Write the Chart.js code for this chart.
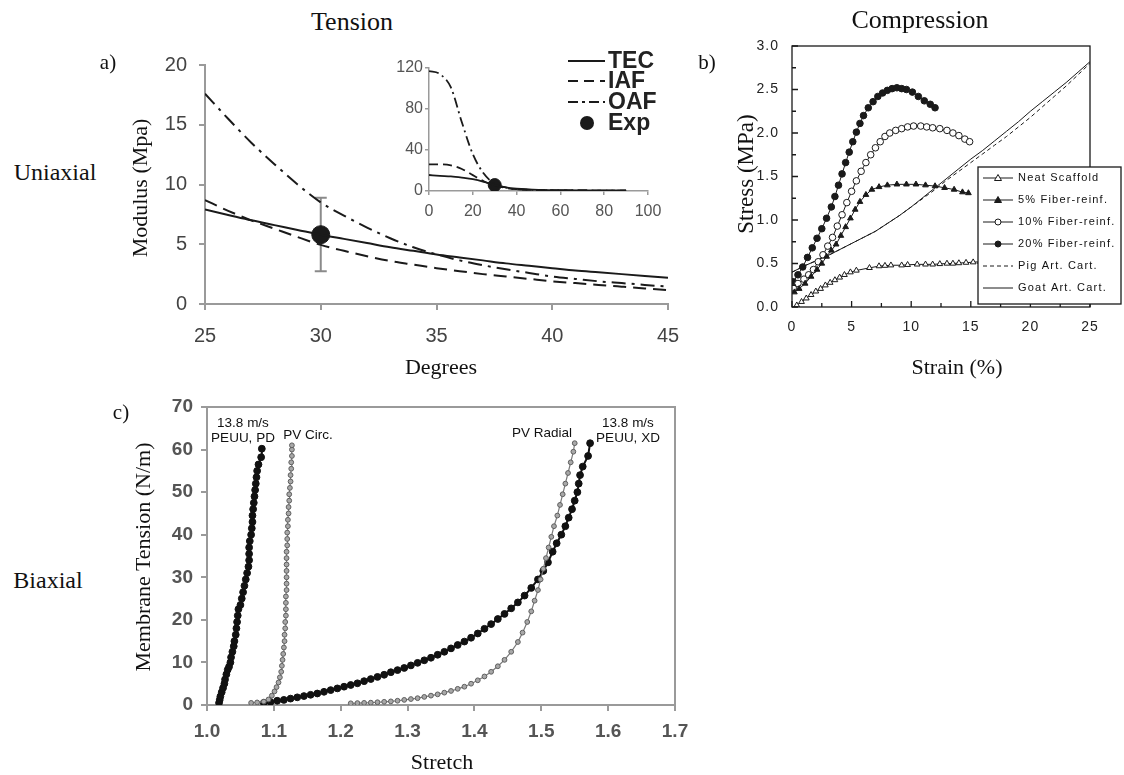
<!DOCTYPE html>
<html><head><meta charset="utf-8">
<script src="https://cdn.jsdelivr.net/npm/chart.js@4.4.1/dist/chart.umd.min.js"></script>
<style>
html,body{margin:0;padding:0;background:#fff;}
#wrap{position:relative;width:1124px;height:775px;overflow:hidden;background:#fff;}
canvas{position:absolute;}
.t{position:absolute;font-family:"Liberation Serif","Times New Roman",serif;color:#111;white-space:nowrap;transform:translate(-50%,-50%);line-height:1;}
.r{transform:translate(-50%,-50%) rotate(-90deg);}
.ann{position:absolute;font-family:"Liberation Sans",Arial,sans-serif;font-size:13.5px;color:#111;transform:translate(-50%,-50%);text-align:center;line-height:1.12;white-space:nowrap;}
</style></head>
<body><div id="wrap">
<canvas id="ca" width="600" height="340" style="left:100px;top:40px"></canvas>
<canvas id="ci" width="300" height="200" style="left:380px;top:40px"></canvas>
<canvas id="cb" width="424" height="360" style="left:700px;top:30px"></canvas>
<canvas id="cc" width="600" height="395" style="left:110px;top:380px"></canvas>

<div class="t" style="left:352px;top:22px;font-size:26px">Tension</div>
<div class="t" style="left:920px;top:20px;font-size:26px">Compression</div>
<div class="t" style="left:108px;top:62px;font-size:21px">a)</div>
<div class="t" style="left:707px;top:62px;font-size:21px">b)</div>
<div class="t" style="left:121px;top:412px;font-size:21px">c)</div>
<div class="t" style="left:55px;top:172px;font-size:24px">Uniaxial</div>
<div class="t" style="left:48px;top:580px;font-size:24px">Biaxial</div>
<div class="t r" style="left:140px;top:188px;font-size:22px">Modulus (Mpa)</div>
<div class="t" style="left:441px;top:367px;font-size:22px">Degrees</div>
<div class="t r" style="left:745px;top:174px;font-size:23px">Stress (MPa)</div>
<div class="t" style="left:957px;top:367px;font-size:22px">Strain (%)</div>
<div class="t r" style="left:143px;top:557px;font-size:22px">Membrane Tension (N/m)</div>
<div class="t" style="left:442px;top:762px;font-size:22px">Stretch</div>
<div class="ann" style="left:243px;top:430px">13.8 m/s<br>PEUU, PD</div>
<div class="ann" style="left:308px;top:435px">PV Circ.</div>
<div class="ann" style="left:542px;top:433px">PV Radial</div>
<div class="ann" style="left:628px;top:430px">13.8 m/s<br>PEUU, XD</div>
</div>
<script>
// ---------- Panel a: main ----------
const aDeg = [25,26,27,28,29,30,31,32,33,34,35,36,37,38,39,40,41,42,43,44,45];
const aTEC = [7.9,7.45,7.0,6.6,6.2,5.8,5.45,5.1,4.75,4.45,4.15,3.9,3.65,3.4,3.2,3.0,2.8,2.65,2.5,2.35,2.2];
const aIAF = [8.7,7.8,7.0,6.3,5.6,4.95,4.45,4.0,3.6,3.3,3.0,2.75,2.5,2.3,2.1,1.9,1.75,1.6,1.45,1.3,1.15];
const aOAF = [17.6,15.5,13.5,11.7,10.0,8.5,7.4,6.4,5.5,4.75,4.15,3.65,3.25,2.9,2.6,2.3,2.1,1.9,1.75,1.6,1.45];
const expX = [30];
const expY = [5.8];
const expLow = [2.75];
const expHigh = [8.9];
const aXTicks = [25,30,35,40,45];
const aYTicks = [0,5,10,15,20];
// ---------- Panel a: inset ----------
const inDeg = [0,5,10,15,20,25,30,35,40,45,50,60,70,80,90];
const inTEC = [15.6,14.8,14.2,13,11.5,9,5.8,3.5,2.2,1.5,1.1,0.8,0.6,0.5,0.5];
const inIAF = [26,26,25,21.5,15.5,9.5,5.5,3,1.8,1.2,0.9,0.6,0.5,0.4,0.4];
const inOAF = [117,114,101,67,36,17,7,3.5,1.8,1.2,0.9,0.6,0.5,0.4,0.4];
const inXTicks = [0,20,40,60,80,100];
const inYTicks = [0,40,80,120];
const legendA = ['TEC','IAF','OAF','Exp'];
// ---------- Panel b ----------
const bNeatX = [0.4,0.8,1.2,1.6,2.0,2.4,2.8,3.2,3.6,4.0,4.4,4.9,5.4,6.5,7.3,7.8,8.3,9.2,9.7,10.5,11.2,11.8,12.4,13.0,13.5,14.0,14.6,15.2,15.8,16.6,17.4,18.2,19.0];
const bNeatY = [0.02,0.06,0.10,0.14,0.18,0.21,0.25,0.28,0.31,0.34,0.37,0.40,0.42,0.45,0.47,0.475,0.48,0.48,0.485,0.49,0.49,0.49,0.495,0.50,0.50,0.505,0.51,0.515,0.52,0.52,0.525,0.53,0.53];
const b5X = [0.2,0.6,1.1,1.6,2.1,2.5,2.9,3.3,3.7,4.1,4.5,4.9,5.3,5.7,6.2,6.7,7.3,8.0,8.8,9.6,10.4,11.2,12.0,12.8,13.6,14.3,14.8];
const b5Y = [0.17,0.21,0.27,0.35,0.43,0.5,0.58,0.65,0.72,0.82,0.92,1.02,1.12,1.21,1.29,1.35,1.38,1.40,1.41,1.41,1.41,1.40,1.39,1.37,1.35,1.32,1.31];
const b10X = [0.1,0.5,1.0,1.4,1.8,2.2,2.6,3.0,3.4,3.8,4.2,4.6,5.0,5.4,5.8,6.2,6.6,7.0,7.4,7.8,8.2,8.7,9.2,9.7,10.2,10.8,11.3,11.8,12.4,13.0,13.5,14.0,14.5,14.9];
const b10Y = [0.22,0.27,0.32,0.37,0.43,0.52,0.6,0.7,0.8,0.93,1.06,1.2,1.33,1.45,1.56,1.66,1.75,1.83,1.9,1.96,2.0,2.03,2.05,2.07,2.08,2.08,2.07,2.06,2.05,2.03,2.0,1.97,1.93,1.9];
const b20X = [0.1,0.5,0.9,1.3,1.7,2.1,2.5,2.9,3.3,3.6,3.9,4.2,4.5,4.8,5.1,5.4,5.7,6.0,6.4,6.8,7.2,7.6,8.0,8.4,8.8,9.2,9.6,10.1,10.6,11.1,11.6,12.0];
const b20Y = [0.29,0.37,0.46,0.57,0.68,0.79,0.9,1.02,1.15,1.27,1.4,1.53,1.66,1.78,1.9,2.01,2.11,2.2,2.29,2.36,2.42,2.46,2.49,2.51,2.52,2.51,2.5,2.47,2.42,2.37,2.33,2.29];
const bCartX = [0,1,2,3,4,5,6,7,8,9,10,11,12,13,14,15,16,17,18,19,20,21,22,23,24,25];
const bGoatY = [0.4,0.47,0.53,0.59,0.66,0.73,0.8,0.87,0.96,1.05,1.15,1.26,1.37,1.48,1.59,1.7,1.8,1.91,2.02,2.13,2.25,2.36,2.47,2.58,2.7,2.82];
const bPigY  = [0.4,0.47,0.53,0.59,0.66,0.73,0.8,0.87,0.96,1.05,1.15,1.25,1.35,1.46,1.56,1.66,1.76,1.86,1.96,2.07,2.18,2.3,2.42,2.54,2.67,2.8];
const legendB = ['Neat Scaffold','5% Fiber-reinf.','10% Fiber-reinf.','20% Fiber-reinf.','Pig Art. Cart.','Goat Art. Cart.'];
// ---------- Panel c ----------
const cPDx = [1.018,1.019,1.020,1.022,1.024,1.026,1.027,1.029,1.031,1.033,1.035,1.036,1.038,1.040,1.041,1.043,1.044,1.045,1.046,1.047,1.050,1.052,1.054,1.056,1.058,1.060,1.062,1.063,1.063,1.063,1.064,1.066,1.067,1.068,1.068,1.069,1.070,1.071,1.072,1.073,1.074,1.075,1.077,1.081,1.082];
const cPDy = [0.5,1.2,2.0,3.0,4.0,5.0,6.0,7.2,8.3,9.0,10.0,11.2,12.5,13.8,15.0,16.5,18.0,19.5,21.0,22.5,23.5,25.0,26.5,28.0,29.5,31.0,32.5,34.0,35.5,37.0,38.5,40.0,41.5,43.0,44.5,46.0,47.5,49.0,50.5,52,53.5,55,56.5,58.2,60.2];
const cCircX = [1.066,1.075,1.085,1.092,1.097,1.101,1.104,1.107,1.109,1.111,1.112,1.113,1.114,1.115,1.116,1.116,1.117,1.117,1.118,1.118,1.118,1.118,1.119,1.119,1.119,1.119,1.119,1.119,1.119,1.120,1.120,1.120,1.121,1.121,1.122,1.122,1.123,1.123,1.124,1.125,1.125,1.126,1.126,1.127,1.127,1.127];
const cCircY = [0.5,0.6,0.8,1.3,2.2,3.2,4.2,5.3,6.5,7.8,9.2,10.6,12.0,13.5,15,16.5,18,19.5,21,22.5,24,25.5,27,28.5,30,31.5,33,34.5,36,37.5,39,40.5,42,43.5,45,46.5,48,49.5,51,52.5,54,55.5,57,58.5,60,61];
const cXDx = [1.085,1.095,1.105,1.115,1.125,1.135,1.145,1.155,1.165,1.175,1.185,1.195,1.205,1.215,1.225,1.235,1.245,1.255,1.265,1.275,1.285,1.295,1.305,1.315,1.325,1.335,1.345,1.355,1.365,1.375,1.385,1.395,1.405,1.415,1.425,1.435,1.445,1.455,1.465,1.475,1.485,1.495,1.503,1.510,1.517,1.523,1.530,1.536,1.541,1.546,1.550,1.554,1.556,1.558,1.562,1.570,1.573];
const cXDy = [0.5,0.7,1.0,1.2,1.5,1.8,2.1,2.4,2.7,3.1,3.5,3.9,4.3,4.7,5.1,5.6,6.1,6.6,7.1,7.7,8.2,8.7,9.3,9.9,10.5,11.1,11.8,12.5,13.3,14.1,14.9,15.8,16.8,17.9,19.0,20.2,21.4,22.7,24.1,25.7,27.5,29.5,31.5,33.5,36,38,40,42,44,46,48,50,52,54,56,58.5,61.5];
const cRadX = [1.215,1.225,1.235,1.245,1.255,1.265,1.275,1.285,1.295,1.305,1.315,1.325,1.335,1.345,1.355,1.365,1.375,1.385,1.395,1.405,1.415,1.425,1.435,1.445,1.455,1.465,1.472,1.479,1.485,1.490,1.495,1.499,1.503,1.507,1.511,1.515,1.519,1.524,1.528,1.532,1.536,1.540,1.544,1.548,1.550];
const cRadY = [0.4,0.45,0.5,0.55,0.65,0.75,0.85,1.0,1.2,1.4,1.6,1.9,2.2,2.5,2.9,3.3,3.8,4.3,5.0,5.8,6.7,7.8,9.1,10.6,12.5,14.8,17,19.5,22,24.5,27,29.5,32,34.5,37,39.5,42,44.5,47,49.5,52,54.5,57,59.5,61.5];
const cXTicks = [1.0,1.1,1.2,1.3,1.4,1.5,1.6,1.7];
const cYTicks = [0,10,20,30,40,50,60,70];

// ---------- helpers ----------
Chart.defaults.font.family = '"Liberation Sans", Arial, sans-serif';
Chart.defaults.animation = false;
const pts = (xs, ys) => xs.map((x, i) => ({x, y: ys[i]}));
const fixTicks = arr => (scale) => { scale.ticks = arr.map(v => ({value: v})); };
const GRAY = '#9a9a9a';

const errPlugin = {
  id: 'errbar',
  beforeDatasetsDraw(chart, args, o) {
    const {ctx, scales: {x, y}} = chart;
    ctx.save(); ctx.strokeStyle = o.color; ctx.lineWidth = o.width;
    o.xs.forEach((xv, i) => {
      const px = x.getPixelForValue(xv), y1 = y.getPixelForValue(o.lows[i]), y2 = y.getPixelForValue(o.highs[i]);
      ctx.beginPath();
      ctx.moveTo(px, y1); ctx.lineTo(px, y2);
      ctx.moveTo(px - o.cap, y1); ctx.lineTo(px + o.cap, y1);
      ctx.moveTo(px - o.cap, y2); ctx.lineTo(px + o.cap, y2);
      ctx.stroke();
    });
    ctx.restore();
  }
};

// ---------- Chart a main ----------
new Chart(document.getElementById('ca'), {
  type: 'line',
  data: { datasets: [
    {label:'TEC', data: pts(aDeg, aTEC), borderColor:'#1a1a1a', borderWidth:2, pointRadius:0, cubicInterpolationMode:'monotone'},
    {label:'IAF', data: pts(aDeg, aIAF), borderColor:'#1a1a1a', borderWidth:2, borderDash:[13,7], pointRadius:0, cubicInterpolationMode:'monotone'},
    {label:'OAF', data: pts(aDeg, aOAF), borderColor:'#1a1a1a', borderWidth:2, borderDash:[14,6,3,6], pointRadius:0, cubicInterpolationMode:'monotone'},
    {label:'Exp', data: pts(expX, expY), showLine:false, pointRadius:9, pointBackgroundColor:'#1a1a1a', pointBorderColor:'#1a1a1a'}
  ]},
  options: {
    responsive:false, animation:false,
    layout:{padding:{left:0, top:25, right:32, bottom:0}},
    plugins:{legend:{display:false}, tooltip:{enabled:false},
      errbar:{xs:expX, lows:expLow, highs:expHigh, color:'#8a8a8a', width:2, cap:6}},
    scales:{
      x:{type:'linear', min:25, max:45, afterFit(s){s.height=76;}, afterBuildTicks: fixTicks(aXTicks),
         ticks:{color:'#444', font:{size:20}, padding:14},
         grid:{drawOnChartArea:false, tickLength:6, color:GRAY, lineWidth:2}, border:{color:GRAY, width:2}},
      y:{type:'linear', min:0, max:20, afterFit(s){s.width=105;}, afterBuildTicks: fixTicks(aYTicks),
         ticks:{color:'#444', font:{size:20}, padding:12},
         grid:{drawOnChartArea:false, tickLength:6, color:GRAY, lineWidth:2}, border:{color:GRAY, width:2}}
    }
  },
  plugins:[errPlugin]
});

// ---------- Chart a inset ----------
const legAPlugin = {
  id:'legA',
  afterDraw(chart){
    const ctx = chart.ctx; ctx.save();
    const dashes = [[], [10,6], [10,4,3,4], null];
    const ys = [21, 41, 62, 83];
    legendA.forEach((t, i) => {
      const y = ys[i];
      ctx.strokeStyle = '#1a1a1a'; ctx.fillStyle = '#1a1a1a'; ctx.lineWidth = 2;
      if (dashes[i]) { ctx.setLineDash(dashes[i]); ctx.beginPath(); ctx.moveTo(188, y); ctx.lineTo(225, y); ctx.stroke(); ctx.setLineDash([]); }
      else { ctx.beginPath(); ctx.arc(207, y, 7, 0, Math.PI*2); ctx.fill(); }
      ctx.font = 'bold 23px "Liberation Sans", Arial, sans-serif';
      ctx.textBaseline = 'middle'; ctx.textAlign = 'left';
      ctx.fillStyle = '#222';
      ctx.fillText(t, 228, y + 1);
    });
    ctx.restore();
  }
};
new Chart(document.getElementById('ci'), {
  type:'line',
  data:{ datasets:[
    {label:'TEC', data: pts(inDeg, inTEC), borderColor:'#1a1a1a', borderWidth:1.8, pointRadius:0, cubicInterpolationMode:'monotone'},
    {label:'IAF', data: pts(inDeg, inIAF), borderColor:'#1a1a1a', borderWidth:1.8, borderDash:[9,5], pointRadius:0, cubicInterpolationMode:'monotone'},
    {label:'OAF', data: pts(inDeg, inOAF), borderColor:'#1a1a1a', borderWidth:1.8, borderDash:[10,4,2,4], pointRadius:0, cubicInterpolationMode:'monotone'},
    {label:'Exp', data: pts(expX, expY), showLine:false, pointRadius:6.5, pointBackgroundColor:'#1a1a1a', pointBorderColor:'#1a1a1a'}
  ]},
  options:{
    responsive:false, animation:false,
    layout:{padding:{left:0, top:28, right:32, bottom:0}},
    plugins:{legend:{display:false}, tooltip:{enabled:false}},
    scales:{
      x:{type:'linear', min:0, max:100, afterFit(s){s.height=49;}, afterBuildTicks: fixTicks(inXTicks),
         ticks:{color:'#555', font:{size:16}, padding:7},
         grid:{drawOnChartArea:false, tickLength:4, color:GRAY, lineWidth:1.5}, border:{color:GRAY, width:1.5}},
      y:{type:'linear', min:0, max:120, afterFit(s){s.width=49;}, afterBuildTicks: fixTicks(inYTicks),
         ticks:{color:'#555', font:{size:16}, padding:2},
         grid:{drawOnChartArea:false, tickLength:4, color:GRAY, lineWidth:1.5}, border:{color:GRAY, width:1.5}}
    }
  },
  plugins:[legAPlugin]
});

// ---------- Chart b ----------
const spacingB = {
  id:'spacingB',
  beforeDraw(chart){ try { chart.ctx.letterSpacing = '1px'; } catch(e) {} },
  beforeDatasetsDraw(chart){ try { chart.ctx.letterSpacing = '0px'; } catch(e) {} }
};
const frameB = {
  id:'frameB',
  afterDraw(chart){
    const {ctx, chartArea:a, scales:{x, y}} = chart;
    ctx.save();
    ctx.strokeStyle = '#1a1a1a'; ctx.lineWidth = 1.3;
    ctx.strokeRect(a.left, a.top, a.right - a.left, a.bottom - a.top);
    ctx.beginPath();
    const xt = x.ticks.map(t => t.value);
    for (let i = 0; i < xt.length; i++) {
      const p = x.getPixelForValue(xt[i]); ctx.moveTo(p, a.bottom); ctx.lineTo(p, a.bottom - 6);
      if (i < xt.length - 1) { const m = x.getPixelForValue((xt[i] + xt[i+1]) / 2); ctx.moveTo(m, a.bottom); ctx.lineTo(m, a.bottom - 4); }
    }
    const yt = y.ticks.map(t => t.value);
    for (let i = 0; i < yt.length; i++) {
      const p = y.getPixelForValue(yt[i]); ctx.moveTo(a.left, p); ctx.lineTo(a.left + 6, p);
      if (i < yt.length - 1) { const m = y.getPixelForValue((yt[i] + yt[i+1]) / 2); ctx.moveTo(a.left, m); ctx.lineTo(a.left + 4, m); }
    }
    ctx.stroke();
    // legend box
    const L = 278, R = 421, T = 137, B = 274;
    ctx.fillStyle = '#fff'; ctx.fillRect(L, T, R - L, B - T);
    ctx.lineWidth = 1.3; ctx.strokeRect(L, T, R - L, B - T);
    const ds = chart.data.datasets;
    ds.forEach((d, i) => {
      const yy = 148 + i * 22;
      ctx.strokeStyle = '#1a1a1a'; ctx.lineWidth = 1;
      ctx.setLineDash(d.borderDash || []);
      ctx.beginPath(); ctx.moveTo(283, yy); ctx.lineTo(313, yy); ctx.stroke();
      ctx.setLineDash([]);
      if (d.pointRadius > 0) {
        ctx.fillStyle = d.pointBackgroundColor; ctx.strokeStyle = '#1a1a1a';
        ctx.beginPath();
        if (d.pointStyle === 'triangle') { ctx.moveTo(298, yy - 3.5); ctx.lineTo(301.5, yy + 2.5); ctx.lineTo(294.5, yy + 2.5); ctx.closePath(); }
        else { ctx.arc(298, yy, 3, 0, Math.PI * 2); }
        ctx.fill(); ctx.stroke();
      }
      ctx.fillStyle = '#111';
      ctx.font = '11px "Liberation Sans", Arial, sans-serif';
      try { ctx.letterSpacing = '1.2px'; } catch(e) {}
      ctx.textBaseline = 'middle'; ctx.textAlign = 'left';
      ctx.fillText(d.label, 318, yy);
      try { ctx.letterSpacing = '0px'; } catch(e) {}
    });
    ctx.restore();
  }
};
const mk = (label, xs, ys, style, fill) => ({label, data: pts(xs, ys), borderColor:'#1a1a1a', borderWidth:1, pointStyle:style, pointRadius:3.3, pointBorderWidth:1, pointBorderColor:'#1a1a1a', pointBackgroundColor: fill});
new Chart(document.getElementById('cb'), {
  type:'line',
  data:{ datasets:[
    mk(legendB[0], bNeatX, bNeatY, 'triangle', '#fff'),
    mk(legendB[1], b5X, b5Y, 'triangle', '#1a1a1a'),
    mk(legendB[2], b10X, b10Y, 'circle', '#fff'),
    mk(legendB[3], b20X, b20Y, 'circle', '#1a1a1a'),
    {label:legendB[4], data: pts(bCartX, bPigY), borderColor:'#1a1a1a', borderWidth:1, borderDash:[4,3], pointRadius:0},
    {label:legendB[5], data: pts(bCartX, bGoatY), borderColor:'#1a1a1a', borderWidth:1, pointRadius:0}
  ]},
  options:{
    responsive:false, animation:false,
    layout:{padding:{left:0, top:16, right:34, bottom:0}},
    plugins:{legend:{display:false}, tooltip:{enabled:false}},
    scales:{
      x:{type:'linear', min:0, max:25, afterFit(s){s.height=83;},
         ticks:{stepSize:5, color:'#222', font:{size:14}, padding:4},
         grid:{display:false}, border:{display:false}},
      y:{type:'linear', min:0, max:3, afterFit(s){s.width=92;},
         ticks:{stepSize:0.5, color:'#222', font:{size:14}, padding:5, callback: v => Number(v).toFixed(1)},
         grid:{display:false}, border:{display:false}}
    }
  },
  plugins:[spacingB, frameB]
});

// ---------- Chart c ----------
const frameC = {
  id:'frameC',
  beforeDatasetsDraw(chart){
    const {ctx, chartArea:a} = chart;
    ctx.save(); ctx.strokeStyle = GRAY; ctx.lineWidth = 2;
    ctx.beginPath(); ctx.moveTo(a.left, a.top); ctx.lineTo(a.right, a.top); ctx.lineTo(a.right, a.bottom); ctx.stroke();
    ctx.restore();
  }
};
const blk = (label, xs, ys) => ({label, data: pts(xs, ys), borderColor:'#111', borderWidth:2, pointRadius:3.4, pointBackgroundColor:'#111', pointBorderColor:'#111', pointBorderWidth:1});
const gry = (label, xs, ys) => ({label, data: pts(xs, ys), borderColor:'#7a7a7a', borderWidth:1.2, pointRadius:2.4, pointBackgroundColor:'#a8a8a8', pointBorderColor:'#5e5e5e', pointBorderWidth:1});
new Chart(document.getElementById('cc'), {
  type:'line',
  data:{ datasets:[
    gry('PV Circ.', cCircX, cCircY),
    gry('PV Radial', cRadX, cRadY),
    blk('13.8 m/s PEUU, PD', cPDx, cPDy),
    blk('13.8 m/s PEUU, XD', cXDx, cXDy)
  ]},
  options:{
    responsive:false, animation:false,
    layout:{padding:{left:0, top:27, right:35, bottom:0}},
    plugins:{legend:{display:false}, tooltip:{enabled:false}},
    scales:{
      x:{type:'linear', min:1.0, max:1.7, afterFit(s){s.height=70;}, afterBuildTicks: fixTicks(cXTicks),
         ticks:{color:'#555', font:{size:19, weight:'bold'}, padding:9, callback: v => Number(v).toFixed(1)},
         grid:{drawOnChartArea:false, tickLength:6, color:GRAY, lineWidth:2}, border:{color:GRAY, width:2}},
      y:{type:'linear', min:0, max:70, afterFit(s){s.width=97;}, afterBuildTicks: fixTicks(cYTicks),
         ticks:{color:'#555', font:{size:19, weight:'bold'}, padding:8},
         grid:{drawOnChartArea:false, tickLength:6, color:GRAY, lineWidth:2}, border:{color:GRAY, width:2}}
    }
  },
  plugins:[frameC]
});
</script>
</body></html>
